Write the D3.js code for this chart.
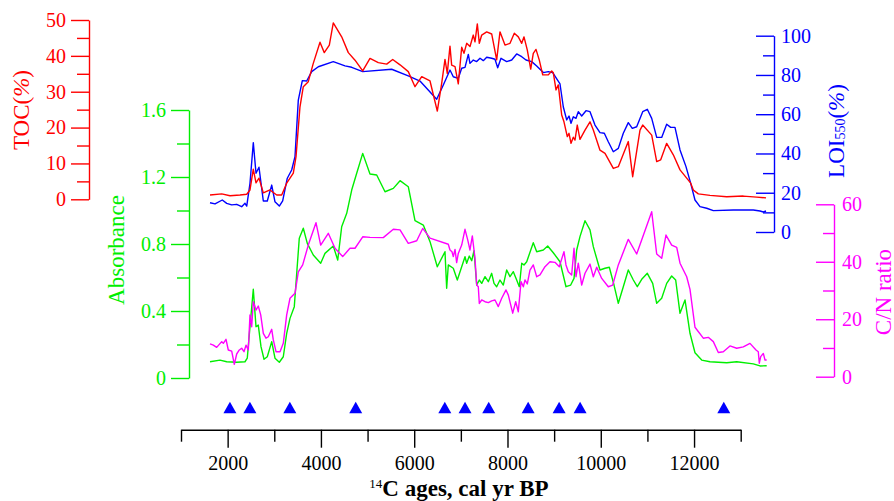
<!DOCTYPE html>
<html lang="en">
<head>
<meta charset="utf-8">
<title>TOC, LOI550, absorbance and C/N ratio</title>
<script src="https://cdn.jsdelivr.net/npm/d3@7"></script>
<style>
  body { margin: 0; background: #fff; }
  svg { display: block; font-family: "Liberation Serif", "Times New Roman", serif; }
</style>
</head>
<body>
<svg id="chart" width="894" height="501"></svg>
<script>

// [age cal yr BP, value]
var toc = [[1622,1.2],[1873,1.5],[2051,1.0],[2265,1.2],[2409,1.4],[2479,2.6],[2550,8.4],[2608,4.6],[2672,5.9],[2765,1.8],[2908,2.6],[3052,1.2],[3159,1.2],[3266,4.5],[3408,7.3],[3466,11.9],[3551,25.8],[3622,31.4],[3729,32.8],[3836,37.9],[3980,43.8],[4072,40.9],[4180,43.0],[4265,49.2],[4445,45.3],[4587,40.9],[4731,38.8],[4896,35.8],[5052,39.3],[5230,38.1],[5410,37.7],[5539,39.0],[5696,37.5],[5873,35.6],[6017,31.4],[6161,34.2],[6339,33.0],[6495,24.6],[6589,32.3],[6660,39.0],[6709,35.1],[6767,42.7],[6803,37.4],[6875,37.0],[6945,32.2],[7018,42.4],[7067,40.7],[7125,43.5],[7196,42.6],[7267,45.8],[7303,43.9],[7353,48.9],[7396,43.5],[7447,45.8],[7554,46.7],[7661,46.1],[7768,38.9],[7839,46.7],[7946,43.0],[8054,43.5],[8146,46.3],[8232,45.3],[8305,43.5],[8354,45.3],[8425,41.6],[8498,36.3],[8553,40.7],[8611,41.8],[8682,38.8],[8755,34.7],[8875,34.7],[8948,35.8],[8982,35.3],[9040,30.5],[9089,31.9],[9162,23.5],[9211,21.6],[9282,17.5],[9319,18.4],[9362,15.6],[9411,17.3],[9447,16.5],[9496,20.7],[9554,16.7],[9662,19.3],[9769,21.6],[9840,19.3],[9983,13.7],[10091,12.8],[10269,8.6],[10376,9.1],[10590,16.1],[10684,6.3],[10841,19.3],[10899,20.7],[11092,17.9],[11199,10.5],[11285,11.0],[11413,15.6],[11555,12.4],[11699,8.2],[11842,5.9],[11928,4.5],[11984,2.6],[12091,1.5],[12342,1.1],[12700,0.7],[13056,0.9],[13343,0.6],[13543,0.4]];

var loi = [[1622,14.9],[1729,14.3],[1885,16.3],[1980,14.6],[2087,13.8],[2194,14.1],[2301,12.9],[2372,14.6],[2409,13.2],[2479,24.8],[2550,45.5],[2608,29.9],[2672,33.0],[2765,15.8],[2850,15.8],[2945,23.9],[3015,15.4],[3108,13.2],[3180,15.9],[3279,27.4],[3373,31.6],[3444,38.4],[3515,67.2],[3601,77.1],[3695,76.9],[3802,81.7],[3944,84.2],[4265,86.8],[4516,84.6],[4660,83.9],[4896,81.7],[5517,82.9],[5873,79.5],[6124,76.9],[6482,67.6],[6624,74.9],[6767,82.5],[6838,79.1],[6945,78.3],[7018,83.4],[7089,83.9],[7160,90.5],[7196,85.9],[7267,87.6],[7340,86.8],[7411,88.5],[7481,87.3],[7554,89.0],[7661,88.5],[7732,88.0],[7790,83.7],[7861,88.5],[7983,86.8],[8090,87.6],[8197,90.7],[8305,89.3],[8397,87.6],[8519,86.8],[8626,84.6],[8768,81.2],[8875,81.7],[8969,81.2],[9126,75.4],[9196,63.8],[9269,57.1],[9319,59.1],[9362,55.4],[9411,58.7],[9469,57.9],[9518,61.3],[9591,59.1],[9683,61.8],[9769,61.3],[9876,54.5],[9983,50.6],[10076,50.3],[10161,46.0],[10269,40.9],[10376,42.6],[10483,50.3],[10590,55.7],[10676,52.8],[10770,53.6],[10899,61.3],[10998,62.5],[11092,57.9],[11199,48.2],[11306,48.2],[11413,54.9],[11499,53.3],[11591,53.3],[11699,41.8],[11827,33.3],[11928,24.8],[12020,16.3],[12127,12.9],[12271,12.1],[12413,10.9],[12841,11.2],[13270,11.2],[13414,10.7],[13485,10.2],[13543,10.7]];

var absorbance = [[1622,0.097],[1836,0.107],[1980,0.097],[2194,0.094],[2372,0.097],[2421,0.118],[2479,0.306],[2550,0.53],[2608,0.306],[2657,0.316],[2715,0.187],[2780,0.112],[2850,0.127],[2945,0.217],[3015,0.118],[3108,0.094],[3193,0.127],[3266,0.267],[3337,0.356],[3429,0.426],[3481,0.625],[3536,0.834],[3622,0.894],[3708,0.804],[3836,0.734],[3995,0.685],[4087,0.744],[4265,0.788],[4360,0.704],[4445,0.903],[4553,0.983],[4660,1.122],[4767,1.222],[4896,1.341],[5052,1.218],[5196,1.212],[5374,1.112],[5552,1.132],[5696,1.178],[5873,1.142],[6017,0.939],[6195,0.913],[6339,0.814],[6495,0.664],[6660,0.754],[6696,0.536],[6731,0.675],[6838,0.655],[6924,0.585],[7018,0.664],[7089,0.724],[7125,0.685],[7181,0.728],[7233,0.700],[7282,0.760],[7340,0.555],[7396,0.585],[7447,0.565],[7518,0.605],[7589,0.575],[7661,0.625],[7711,0.565],[7768,0.545],[7839,0.585],[7910,0.555],[7983,0.645],[8054,0.605],[8125,0.635],[8197,0.585],[8253,0.545],[8305,0.685],[8354,0.675],[8412,0.694],[8553,0.808],[8626,0.754],[8768,0.764],[8862,0.788],[8982,0.748],[9126,0.694],[9254,0.545],[9355,0.555],[9426,0.595],[9484,0.764],[9554,0.844],[9662,0.939],[9769,0.884],[9840,0.784],[9983,0.645],[10091,0.655],[10183,0.661],[10284,0.555],[10376,0.446],[10483,0.545],[10590,0.645],[10698,0.585],[10783,0.545],[10878,0.589],[10998,0.625],[11113,0.565],[11199,0.446],[11306,0.476],[11413,0.565],[11520,0.609],[11606,0.585],[11699,0.386],[11806,0.466],[11913,0.267],[12020,0.151],[12164,0.107],[12342,0.097],[12700,0.091],[12914,0.097],[13270,0.084],[13414,0.072],[13557,0.073]];

var cn = [[1622,11.4],[1693,11.0],[1765,10.2],[1873,12.2],[1907,11.6],[1965,13.0],[2014,9.3],[2087,8.9],[2143,4.3],[2194,7.9],[2250,9.3],[2301,9.9],[2351,8.7],[2394,11.0],[2443,9.3],[2479,21.5],[2516,17.4],[2550,26.1],[2608,23.2],[2657,24.6],[2709,21.5],[2765,15.1],[2822,13.4],[2872,13.9],[2945,16.5],[2979,12.8],[3037,8.7],[3123,8.7],[3193,11.6],[3266,21.5],[3337,27.3],[3444,29.0],[3515,36.5],[3609,38.9],[3729,45.8],[3894,53.6],[3995,45.8],[4158,49.9],[4302,44.7],[4467,41.8],[4623,44.7],[4731,44.7],[4896,48.7],[5052,48.5],[5337,48.4],[5552,51.3],[5696,51.1],[5873,46.4],[6054,47.3],[6182,51.6],[6339,48.2],[6731,46.1],[6767,44.1],[6810,43.5],[6838,41.8],[6875,44.3],[6910,39.7],[6945,42.9],[7018,45.8],[7089,51.3],[7147,47.6],[7196,44.1],[7246,49.0],[7303,41.2],[7340,31.9],[7374,31.3],[7396,25.5],[7447,26.7],[7518,26.1],[7589,25.8],[7661,26.4],[7732,26.7],[7803,24.4],[7876,27.3],[7968,30.2],[8018,28.4],[8112,22.1],[8176,26.1],[8232,22.6],[8290,33.1],[8340,31.3],[8375,33.7],[8425,32.3],[8482,37.1],[8553,38.9],[8626,34.8],[8697,35.4],[8804,38.3],[8911,40.0],[9018,39.8],[9111,38.3],[9211,43.5],[9254,38.9],[9304,36.5],[9376,35.4],[9426,44.7],[9469,34.8],[9518,39.5],[9591,31.9],[9662,36.0],[9769,39.2],[9840,34.8],[9913,38.1],[10020,34.2],[10161,31.3],[10256,31.9],[10376,38.9],[10590,47.8],[10770,42.7],[11092,57.4],[11199,42.7],[11306,41.2],[11398,49.3],[11520,45.8],[11628,45.0],[11699,39.5],[11842,34.8],[11913,30.4],[12020,17.2],[12198,13.4],[12305,13.7],[12413,12.2],[12520,8.4],[12627,8.7],[12770,10.7],[12914,9.9],[13056,10.4],[13199,11.6],[13328,9.3],[13377,8.7],[13399,4.7],[13429,7.0],[13485,8.1],[13521,5.8],[13557,5.8]];

// radiocarbon dated levels (triangles)
var dates14c = [2049, 2477, 3334, 4746, 6656, 7090, 7598, 8443, 9107, 9557, 12637];

var xMajor = [2000, 4000, 6000, 8000, 10000, 12000];
var xMinor = [1000, 3000, 5000, 7000, 9000, 11000, 13000];
var tocMajor = [0, 10, 20, 30, 40, 50];
var tocMinor = [5, 15, 25, 35, 45];
var absMajor = [0, 0.4, 0.8, 1.2, 1.6];
var absMinor = [0.2, 0.6, 1.0, 1.4];
var loiMajor = [0, 20, 40, 60, 80, 100];
var loiMinor = [10, 30, 50, 70, 90];
var cnMajor = [0, 20, 40, 60];
var cnMinor = [10, 30, 50];

var RED = '#ff0000', BLUE = '#0000ff', GREEN = '#00ee00', MAGENTA = '#ff00ff';

var svg = d3.select('#chart');

var x = d3.scaleLinear().domain([1000, 13000]).range([181, 740.7]);
var yToc = d3.scaleLinear().domain([0, 50]).range([199.3, 20]);
var yLoi = d3.scaleLinear().domain([0, 100]).range([232, 35.7]);
var yAbs = d3.scaleLinear().domain([0, 1.6]).range([378, 110]);
var yCn = d3.scaleLinear().domain([0, 60]).range([376.7, 204.3]);

function fmt(d) { return d3.format('')(d); }

// draws one axis: major labelled ticks + short minor ticks
function drawAxis(axisFn, scale, major, minor, majorLen, minorLen, pad, tx, ty, color, fontSize) {
    var g = svg.append('g').attr('transform', 'translate(' + tx + ',' + ty + ')');
    g.call(axisFn(scale).tickValues(major).tickSize(majorLen).tickSizeOuter(0)
        .tickPadding(pad).tickFormat(fmt));
    g.append('g').call(axisFn(scale).tickValues(minor).tickSize(minorLen).tickSizeOuter(0)
        .tickFormat(''))
        .select('.domain').remove();
    g.selectAll('path, line').attr('stroke', color).attr('stroke-width', 1.4);
    g.selectAll('text').attr('fill', color).style('font-size', fontSize + 'px')
        .style('font-family', '"Liberation Serif", "Times New Roman", serif');
    return g;
}

drawAxis(d3.axisLeft, yToc, tocMajor, tocMinor, 18, 12, 5, 89, 0, RED, 20);
drawAxis(d3.axisLeft, yAbs, absMajor, absMinor, 18, 12, 5, 189, 0, GREEN, 20);
// right side axes have their ticks pointing back into the plot
var gl = drawAxis(d3.axisRight, yLoi, loiMajor, loiMinor, -18, -11, 7, 774, 0, BLUE, 20);
var gc = drawAxis(d3.axisRight, yCn, cnMajor, cnMinor, -18, -11, 8, 834, 0, MAGENTA, 20);
gl.selectAll('text').attr('x', 7);
gc.selectAll('text').attr('x', 8);

var gx = drawAxis(d3.axisBottom, x, xMajor, xMinor, 18, 12, 8, 0, 429.7, '#000', 20);

// axis titles
function vtitle(cx, cy, color) {
    return svg.append('text')
        .attr('transform', 'translate(' + cx + ',' + cy + ') rotate(-90)')
        .attr('text-anchor', 'middle')
        .attr('dominant-baseline', 'central')
        .attr('fill', color)
        .style('font-size', '23px');
}

var t1 = vtitle(21, 110, RED);
t1.append('tspan').text('TOC(');
t1.append('tspan').style('font-style', 'italic').text('%');
t1.append('tspan').text(')');

vtitle(116, 250, GREEN).text('Absorbance');

var t2 = vtitle(836, 131, BLUE);
t2.append('tspan').text('LOI');
t2.append('tspan').style('font-size', '14px').attr('dy', 4).text('550');
t2.append('tspan').attr('dy', -4).text('(');
t2.append('tspan').style('font-style', 'italic').text('%');
t2.append('tspan').text(')');

vtitle(883, 292, MAGENTA).text('C/N ratio');

var xt = svg.append('text')
    .attr('x', 459).attr('y', 496)
    .attr('text-anchor', 'middle')
    .attr('fill', '#000')
    .style('font-size', '23px')
    .style('font-weight', 'bold');
xt.append('tspan').style('font-size', '13px').style('font-weight', 'normal').attr('dy', -8).text('14');
xt.append('tspan').attr('dy', 8).text('C ages, cal yr BP');

// series
function drawLine(data, yScale, color) {
    var line = d3.line()
        .x(function(d) { return x(d[0]); })
        .y(function(d) { return yScale(d[1]); });
    svg.append('path')
        .datum(data)
        .attr('d', line)
        .attr('fill', 'none')
        .attr('stroke', color)
        .attr('stroke-width', 1.4)
        .attr('stroke-linejoin', 'round');
}

drawLine(loi, yLoi, BLUE);
drawLine(toc, yToc, RED);
drawLine(absorbance, yAbs, GREEN);
drawLine(cn, yCn, MAGENTA);

// dated levels
svg.append('g').selectAll('path')
    .data(dates14c)
    .enter().append('path')
    .attr('d', function(d) {
        var cx = x(d);
        return 'M' + (cx - 6.5) + ',413.3L' + (cx + 6.5) + ',413.3L' + cx + ',401.7Z';
    })
    .attr('fill', BLUE);

</script>
</body>
</html>
